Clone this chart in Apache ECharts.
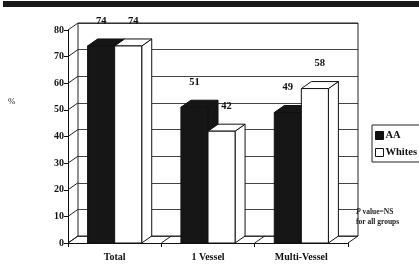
<!DOCTYPE html>
<html>
<head>
<meta charset="utf-8">
<script src="https://cdn.jsdelivr.net/npm/echarts@6/dist/echarts.min.js"></script>
<style>
html,body{margin:0;padding:0;background:#fff;}
#main{width:419px;height:268px;}
</style>
</head>
<body>
<div id="main"></div>
<script>
// 数据
var categories = ['Total', '1 Vessel', 'Multi-Vessel'];
var aaValues = [74, 51, 49];
var whiteValues = [74, 42, 58];
var yTicks = [0, 10, 20, 30, 40, 50, 60, 70, 80];

var FONT = 'Liberation Serif';
var DX = 10, DY = -7; // 立体深度偏移

function barItem(side, fill) {
	return function (params, api) {
		var c = api.value(0), v = api.value(1);
		var top = api.coord([c, v]);
		var base = api.coord([c, 0]);
		var bw = api.size([1, 0])[0] * 0.29;
		var x0 = side < 0 ? top[0] - bw : top[0];
		var x1 = x0 + bw;
		var st = { fill: fill, stroke: '#111', lineWidth: 1 };
		var children = [
			{ type: 'polygon', shape: { points: [[x1, top[1]], [x1 + DX, top[1] + DY], [x1 + DX, base[1] + DY], [x1, base[1]]] }, style: st },
			{ type: 'polygon', shape: { points: [[x0, top[1]], [x1, top[1]], [x1 + DX, top[1] + DY], [x0 + DX, top[1] + DY]] }, style: st },
			{ type: 'rect', shape: { x: x0, y: top[1], width: bw, height: base[1] - top[1] }, style: st },
			{ type: 'text', style: { text: String(v), x: (x0 + x1) / 2 + (side > 0 ? 5 : 0), y: top[1] - 25,
				align: 'center', verticalAlign: 'middle', font: 'bold 10.5px ' + FONT, fill: '#111' } }
		];
		return { type: 'group', children: children };
	};
}

// 侧墙/底板线条
function frameItem(params, api) {
	var cs = params.coordSys;
	var children = [];
	for (var i = 0; i < yTicks.length; i++) {
		var y = api.coord([0, yTicks[i]])[1];
		children.push({ type: 'line', shape: { x1: cs.x, y1: y, x2: cs.x + DX, y2: y + DY }, style: { stroke: '#222', lineWidth: 1 } });
	}
	var yb = cs.y + cs.height;
	var bw = cs.width / categories.length;
	for (var j = 0; j <= categories.length; j++) {
		var x = cs.x + bw * j;
		children.push({ type: 'line', shape: { x1: x, y1: yb, x2: x + DX, y2: yb + DY }, style: { stroke: '#222', lineWidth: 1 } });
	}
	// 后墙边框
	children.push({ type: 'polyline', shape: { points: [[cs.x + DX, yb + DY], [cs.x + DX, cs.y + DY], [cs.x + cs.width + DX, cs.y + DY], [cs.x + cs.width + DX, yb + DY]] }, style: { stroke: '#222', fill: null, lineWidth: 1 } });
	children.push({ type: 'line', shape: { x1: cs.x + DX, y1: yb + DY, x2: cs.x + cs.width + DX, y2: yb + DY }, style: { stroke: '#222', lineWidth: 1 } });
	return { type: 'group', children: children };
}

var chart = echarts.init(document.getElementById('main'));
chart.setOption({
	backgroundColor: '#fff',
	animation: false,
	grid: [
		{ left: 68, right: 71, top: 30, bottom: 25 },
		{ left: 78, right: 61, top: 23, bottom: 32 }
	],
	xAxis: [
		{ type: 'category', gridIndex: 0, data: categories,
			axisLine: { lineStyle: { color: '#111' } },
			axisTick: { show: true, length: 4, lineStyle: { color: '#111' } },
			axisLabel: { color: '#111', fontFamily: FONT, fontWeight: 'bold', fontSize: 10, margin: 9 } },
		{ type: 'category', gridIndex: 1, data: categories, show: false }
	],
	yAxis: [
		{ type: 'value', gridIndex: 0, min: 0, max: 80, interval: 10,
			axisLine: { show: true, lineStyle: { color: '#111' } },
			axisTick: { show: true, length: 4, lineStyle: { color: '#111' } },
			splitLine: { show: false },
			axisLabel: { color: '#111', fontFamily: FONT, fontWeight: 'bold', fontSize: 10, margin: 4 } },
		{ type: 'value', gridIndex: 1, min: 0, max: 80, interval: 10,
			axisLine: { show: false }, axisTick: { show: false }, axisLabel: { show: false },
			splitLine: { show: true, lineStyle: { color: '#444', width: 1 } } }
	],
	legend: {
		left: 372, top: 125, orient: 'vertical',
		itemWidth: 8, itemHeight: 8, itemGap: 6,
		padding: [5, 6, 4, 3],
		borderColor: '#222', borderWidth: 1,
		textStyle: { fontFamily: FONT, fontWeight: 'bold', fontSize: 10.5, color: '#111', padding: [0, 0, 0, -3] },
		data: [
			{ name: 'AA', icon: 'rect', itemStyle: { color: '#111', borderColor: '#111', borderWidth: 1 } },
			{ name: 'Whites', icon: 'rect', itemStyle: { color: '#fff', borderColor: '#111', borderWidth: 1 } }
		]
	},
	graphic: [
		{ type: 'rect', left: 3, top: 1, shape: { width: 420, height: 6 }, style: { fill: '#1a1a1a' } },
		{ type: 'text', left: 8, top: 97, style: { text: '%', font: '9px ' + FONT, fill: '#222' } },
		{ type: 'text', left: 356, top: 207, style: { rich: {
			i: { font: 'italic bold 7.5px ' + FONT, fill: '#222' },
			n: { font: 'bold 7.5px ' + FONT, fill: '#222' } },
			text: '{i|P}{n| value=NS}\n{n|for all groups}', lineHeight: 10 } }
	],
	series: [
		{ type: 'custom', name: 'frame', xAxisIndex: 0, yAxisIndex: 0, data: [[0, 0]], renderItem: frameItem, silent: true, z: 1 },
		{ type: 'custom', name: 'AA', xAxisIndex: 0, yAxisIndex: 0, renderItem: barItem(-1, '#161616'),
			itemStyle: { color: '#111' },
			data: aaValues.map(function (v, i) { return [i, v]; }), z: 3 },
		{ type: 'custom', name: 'Whites', xAxisIndex: 0, yAxisIndex: 0, renderItem: barItem(1, '#fff'),
			itemStyle: { color: '#fff' },
			data: whiteValues.map(function (v, i) { return [i, v]; }), z: 4 }
	]
});
</script>
</body>
</html>
